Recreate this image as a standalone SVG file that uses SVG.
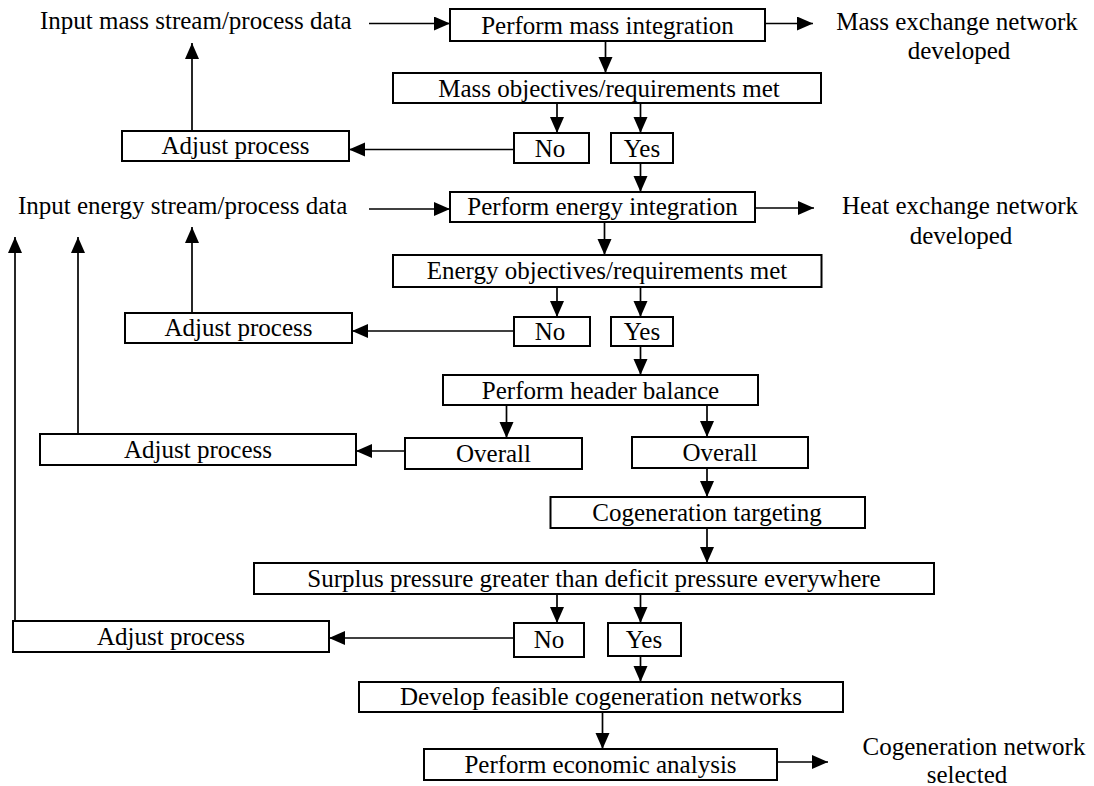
<svg xmlns="http://www.w3.org/2000/svg" width="1094" height="786" viewBox="0 0 1094 786">
<style>
.box{fill:#fff;stroke:#000;stroke-width:2}
.t{font-family:"Liberation Serif","Times New Roman",serif;font-size:25px;fill:#000;text-anchor:middle}
.tl{font-family:"Liberation Serif","Times New Roman",serif;font-size:25px;fill:#000}
.c{stroke:#000;stroke-width:1.7;fill:none;marker-end:url(#ah)}
</style>
<defs>
<marker id="ah" markerUnits="userSpaceOnUse" markerWidth="17" markerHeight="15" refX="16" refY="7" orient="auto">
<path d="M0,0 L16,7 L0,14 z" fill="#000"/>
</marker>
</defs>
<rect width="1094" height="786" fill="#fff"/>
<g id="connectors">
<line class="c" x1="369" y1="23.5" x2="450" y2="23.5"/>
<line class="c" x1="765" y1="23.5" x2="813" y2="23.5"/>
<line class="c" x1="605.5" y1="41" x2="605.5" y2="73"/>
<line class="c" x1="557" y1="103" x2="557" y2="133"/>
<line class="c" x1="640.5" y1="103" x2="640.5" y2="133"/>
<line class="c" x1="514" y1="149.5" x2="349" y2="149.5"/>
<line class="c" x1="192" y1="131" x2="192" y2="43"/>
<line class="c" x1="640.5" y1="150" x2="640.5" y2="192"/>
<line class="c" x1="369" y1="209" x2="450" y2="209"/>
<line class="c" x1="755" y1="208" x2="814" y2="208"/>
<line class="c" x1="604.5" y1="222" x2="604.5" y2="255"/>
<line class="c" x1="557" y1="287" x2="557" y2="317"/>
<line class="c" x1="640.5" y1="287" x2="640.5" y2="317"/>
<line class="c" x1="514" y1="331" x2="352" y2="331"/>
<line class="c" x1="192" y1="313" x2="192" y2="227"/>
<line class="c" x1="640.5" y1="346" x2="640.5" y2="375"/>
<line class="c" x1="506.5" y1="405" x2="506.5" y2="438"/>
<line class="c" x1="707" y1="405" x2="707" y2="437"/>
<line class="c" x1="405" y1="451" x2="356" y2="451"/>
<line class="c" x1="78" y1="434" x2="78" y2="237"/>
<line class="c" x1="707" y1="468" x2="707" y2="497"/>
<line class="c" x1="707" y1="528" x2="707" y2="563"/>
<line class="c" x1="557" y1="594" x2="557" y2="623"/>
<line class="c" x1="640.5" y1="594" x2="640.5" y2="623"/>
<line class="c" x1="514" y1="638" x2="329" y2="638"/>
<line class="c" x1="15" y1="621" x2="15" y2="237"/>
<line class="c" x1="640.5" y1="657" x2="640.5" y2="682"/>
<line class="c" x1="602.5" y1="700" x2="602.5" y2="749"/>
<line class="c" x1="777" y1="762" x2="828" y2="762"/>
</g>
<g id="input-mass"><text class="tl" x="40" y="28.5">Input mass stream/process data</text></g>
<g id="mass-integration"><rect class="box" x="450" y="9" width="315" height="32"/><text class="t" x="607.5" y="33.5">Perform mass integration</text></g>
<g id="mass-network"><text class="t" x="957" y="29.5">Mass exchange network</text><text class="t" x="959" y="59">developed</text></g>
<g id="mass-objectives"><rect class="box" x="393" y="73" width="428" height="30"/><text class="t" x="609" y="96.5">Mass objectives/requirements met</text></g>
<g id="mass-no"><rect class="box" x="514" y="133" width="75" height="30"/><text class="t" x="550" y="156.5">No</text></g>
<g id="mass-yes"><rect class="box" x="611" y="133" width="62" height="30"/><text class="t" x="642" y="156.5">Yes</text></g>
<g id="adjust-1"><rect class="box" x="122" y="131" width="227" height="30"/><text class="t" x="235.5" y="154">Adjust process</text></g>
<g id="input-energy"><text class="tl" x="18" y="213.5">Input energy stream/process data</text></g>
<g id="energy-integration"><rect class="box" x="450" y="192" width="305" height="30"/><text class="t" x="602.5" y="215">Perform energy integration</text></g>
<g id="heat-network"><text class="t" x="960" y="214">Heat exchange network</text><text class="t" x="961" y="244">developed</text></g>
<g id="energy-objectives"><rect class="box" x="393" y="255" width="428.5" height="32"/><text class="t" x="607" y="279">Energy objectives/requirements met</text></g>
<g id="energy-no"><rect class="box" x="514" y="317" width="76" height="29"/><text class="t" x="550" y="339.5">No</text></g>
<g id="energy-yes"><rect class="box" x="611" y="317" width="62" height="29"/><text class="t" x="642" y="339.5">Yes</text></g>
<g id="adjust-2"><rect class="box" x="125" y="313" width="227" height="30"/><text class="t" x="238.5" y="336">Adjust process</text></g>
<g id="header-balance"><rect class="box" x="443" y="375" width="315" height="30"/><text class="t" x="600.5" y="398.5">Perform header balance</text></g>
<g id="overall-left"><rect class="box" x="405" y="438" width="177" height="31"/><text class="t" x="493.5" y="461.5">Overall</text></g>
<g id="overall-right"><rect class="box" x="632" y="437" width="176" height="31"/><text class="t" x="720" y="460.5">Overall</text></g>
<g id="adjust-3"><rect class="box" x="40" y="434" width="316" height="31"/><text class="t" x="198" y="457.5">Adjust process</text></g>
<g id="cogen-targeting"><rect class="box" x="550.5" y="497" width="314.5" height="31"/><text class="t" x="707" y="520.5">Cogeneration targeting</text></g>
<g id="surplus"><rect class="box" x="254" y="563" width="680" height="31"/><text class="t" x="594" y="586.5">Surplus pressure greater than deficit pressure everywhere</text></g>
<g id="surplus-no"><rect class="box" x="514" y="623" width="70" height="34"/><text class="t" x="549" y="648">No</text></g>
<g id="surplus-yes"><rect class="box" x="608" y="623" width="73" height="33"/><text class="t" x="644" y="647.5">Yes</text></g>
<g id="adjust-4"><rect class="box" x="13" y="621" width="316" height="31"/><text class="t" x="171" y="644.5">Adjust process</text></g>
<g id="develop-networks"><rect class="box" x="359" y="682" width="484" height="30"/><text class="t" x="601" y="705">Develop feasible cogeneration networks</text></g>
<g id="economic"><rect class="box" x="424" y="749" width="353" height="31"/><text class="t" x="600.5" y="772.5">Perform economic analysis</text></g>
<g id="cogen-network"><text class="t" x="974" y="755">Cogeneration network</text><text class="t" x="967" y="783">selected</text></g>
</svg>
